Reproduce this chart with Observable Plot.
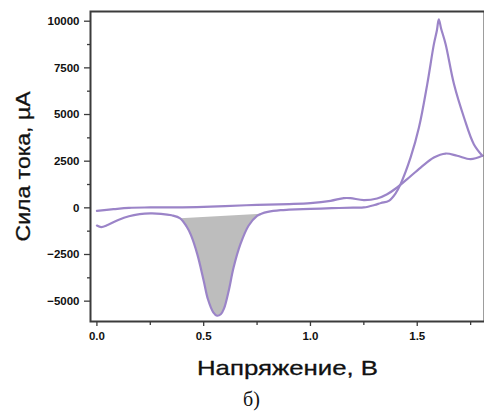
<!DOCTYPE html>
<html>
<head>
<meta charset="utf-8">
<script src="https://cdn.jsdelivr.net/npm/d3@7"></script>
<script src="https://cdn.jsdelivr.net/npm/@observablehq/plot@0.6"></script>
<style>
  html, body { margin: 0; padding: 0; background: #fff; }
  #chart svg { display: block; font-family: "Liberation Sans", Arial, sans-serif; }
  #chart svg [aria-label$="tick label"] { font-weight: bold; fill: #111; }
</style>
</head>
<body>
<div id="chart"></div>
<script>
// Forward (anodic) sweep, V and µA
const forwardV = [0.00, 0.02, 0.05, 0.10, 0.15, 0.20, 0.25, 0.30, 0.35, 0.39, 0.42, 0.44, 0.47, 0.50, 0.52, 0.545, 0.5625, 0.58, 0.595, 0.617, 0.64, 0.672, 0.71, 0.75, 0.77, 0.80, 0.86, 0.90, 1.00, 1.10, 1.20, 1.25, 1.30, 1.33, 1.367, 1.40, 1.422, 1.469, 1.508, 1.547, 1.578, 1.592, 1.601, 1.612, 1.633, 1.672, 1.719, 1.765, 1.805];
const forwardI = [-950, -1030, -920, -650, -450, -340, -300, -320, -400, -560, -1000, -1450, -2480, -3900, -4900, -5600, -5780, -5700, -5400, -4450, -3200, -1950, -960, -430, -320, -220, -125, -100, -60, -20, 10, 20, 150, 260, 375, 800, 1270, 2700, 4300, 6630, 8770, 9500, 10100, 9600, 8770, 6630, 4840, 3410, 2790];
// Reverse sweep
const reverseV = [1.805, 1.75, 1.687, 1.633, 1.578, 1.516, 1.453, 1.406, 1.359, 1.312, 1.25, 1.187, 1.156, 1.094, 1.00, 0.90, 0.75, 0.60, 0.50, 0.40, 0.25, 0.15, 0.078, 0.00];
const reverseI = [2790, 2610, 2790, 2910, 2700, 2160, 1540, 1090, 730, 500, 410, 520, 520, 375, 250, 200, 160, 90, 50, 30, 20, 0, -70, -160];
// Shaded cathodic peak limits
const peakStart = 0.39, peakEnd = 0.77;

const yTicks = [-5000, -2500, 0, 2500, 5000, 7500, 10000];
const yMinor = [-3750, -1250, 1250, 3750, 6250, 8750];
const xTicks = [0, 0.5, 1.0, 1.5];
const xMinor = [0.25, 0.75, 1.25, 1.75];
const xDomain = [-0.03, 1.815];
const yDomain = [-6090, 10520];

const forward = forwardV.map((v, i) => ({v, i: forwardI[i]}));
const reverse = reverseV.map((v, i) => ({v, i: reverseI[i]}));
const peak = forward.filter(d => d.v >= peakStart && d.v <= peakEnd);

const purple = "#9b84c8";
const axisColor = "#3b3b3b";

const chart = Plot.plot({
  width: 484,
  height: 412,
  marginLeft: 90,
  marginRight: 0,
  marginTop: 11,
  marginBottom: 91,
  x: {domain: xDomain},
  y: {domain: yDomain},
  marks: [
    Plot.line(peak, {x: "v", y: "i", fill: "#bdbdbd", stroke: "none", curve: "catmull-rom"}),
    Plot.line(forward, {x: "v", y: "i", stroke: purple, strokeWidth: 2.2, curve: "catmull-rom"}),
    Plot.line(reverse, {x: "v", y: "i", stroke: purple, strokeWidth: 2.2, curve: "catmull-rom"}),
    Plot.frame({stroke: axisColor, strokeWidth: 2}),
    Plot.axisY({ticks: yTicks, tickSize: 6, tickPadding: 5, tickFormat: d3.format("d"), fontSize: 11.5, label: null, stroke: axisColor, strokeWidth: 1.3}),
    Plot.axisY({ticks: yMinor, tickSize: 3, tickFormat: () => "", label: null, stroke: axisColor, strokeWidth: 1.3}),
    Plot.axisX({ticks: xTicks, tickSize: 5, tickPadding: 5, tickFormat: d3.format(".1f"), fontSize: 11.5, label: null, stroke: axisColor, strokeWidth: 1.3}),
    Plot.axisX({ticks: xMinor, tickSize: 4, tickFormat: () => "", label: null, stroke: axisColor, strokeWidth: 1.3}),
    Plot.text(["Сила тока, µA"], {frameAnchor: "left", dx: -67, rotate: -90, textAnchor: "middle", lineAnchor: "middle", fontSize: 21, fill: "#111", stroke: "#111", strokeWidth: 0.3, className: "ytitle"}),
    Plot.text(["Напряжение, В"], {frameAnchor: "bottom", dy: 47, textAnchor: "middle", lineAnchor: "middle", fontSize: 21, fill: "#111", stroke: "#111", strokeWidth: 0.3, className: "xtitle"}),
    Plot.text(["б)"], {frameAnchor: "bottom", dx: -36, dy: 78, textAnchor: "middle", lineAnchor: "middle", fontSize: 20, fontFamily: "Liberation Serif, Times New Roman, serif", fill: "#111"})
  ]
});
d3.select(chart).selectAll(".xtitle text").attr("textLength", 181).attr("lengthAdjust", "spacingAndGlyphs");
d3.select(chart).selectAll(".ytitle text").attr("textLength", 150).attr("lengthAdjust", "spacingAndGlyphs");
document.getElementById("chart").appendChild(chart);
</script>
</body>
</html>
